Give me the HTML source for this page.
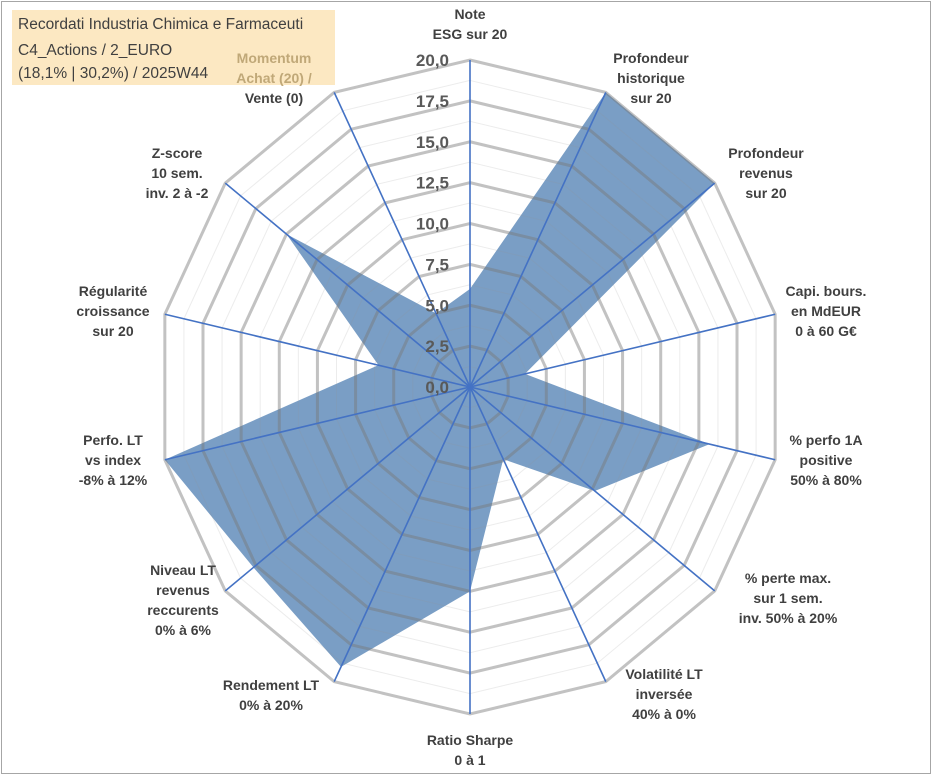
<!DOCTYPE html>
<html><head><meta charset="utf-8"><style>
body{margin:0;background:#fff;}
svg{display:block;font-family:"Liberation Sans",Arial,sans-serif;}
</style></head><body>
<svg id="chart" width="933" height="776" viewBox="0 0 933 776">
<rect x="1.5" y="1.5" width="929" height="772" fill="#fff" stroke="#a6a6a6"/>
<g id="grid"></g>
<g id="series"></g>
<g id="gridTop"></g>
<g id="spokes"></g>
<g id="ticks"></g>
<rect x="12" y="10" width="323" height="75" fill="#fce8c2"/>
<text font-family="'Liberation Sans',sans-serif" font-size="15.5" fill="#404040">
<tspan x="18" y="29">Recordati Industria Chimica e Farmaceuti</tspan>
<tspan x="18" y="55">C4_Actions / 2_EURO</tspan>
<tspan x="18" y="78">(18,1% | 30,2%) / 2025W44</tspan>
</text>
<g id="cats"></g>
</svg>
<script>
const categories=[
["Note","ESG sur 20"],
["Profondeur","historique","sur 20"],
["Profondeur","revenus","sur 20"],
["Capi. bours.","en MdEUR","0 à 60 G€"],
["% perfo 1A","positive","50% à 80%"],
["% perte max.","sur 1 sem.","inv. 50% à 20%"],
["Volatilité LT","inversée","40% à 0%"],
["Ratio Sharpe","0 à 1"],
["Rendement LT","0% à 20%"],
["Niveau LT","revenus","reccurents","0% à 6%"],
["Perfo. LT","vs index","-8% à 12%"],
["Régularité","croissance","sur 20"],
["Z-score","10 sem.","inv. 2 à -2"],
["Momentum","Achat (20) /","Vente (0)"]
];
const values=[6,20,20,3.6,15.7,10.2,4.9,12.5,19,17.7,20,6,15,5];
const tickValues=[0,2.5,5,7.5,10,12.5,15,17.5,20];
const tickLabels=["0,0","2,5","5,0","7,5","10,0","12,5","15,0","17,5","20,0"];

const NS="http://www.w3.org/2000/svg";
const cx=470,cy=387,rx=313,ry=327,vmax=20;
const N=categories.length;
function ang(i){return i*2*Math.PI/N;}
function pt(i,v){const a=ang(i);return [cx+rx*(v/vmax)*Math.sin(a),cy-ry*(v/vmax)*Math.cos(a)];}
function mk(tag,attrs,parent){const e=document.createElementNS(NS,tag);for(const k in attrs)e.setAttribute(k,attrs[k]);parent.appendChild(e);return e;}
function ring(v){let s=[];for(let i=0;i<N;i++)s.push(pt(i,v).join(","));return s.join(" ");}

const gridTop=document.getElementById("gridTop");
for(let k=0;k<tickValues.length-1;k++){
  const v=(tickValues[k]+tickValues[k+1])/2;
  const p=mk("polygon",{points:ring(v),fill:"none",stroke:"rgba(150,150,150,0.18)","stroke-width":1},gridTop);
  
  
}
const ser=document.getElementById("series");
const poly=mk("polygon",{points:values.map((v,i)=>pt(i,v).join(",")).join(" "),fill:"#6f96c0","fill-opacity":"0.92",stroke:"none"},ser);


tickValues.forEach(v=>{if(v===0)return;
  const p=mk("polygon",{points:ring(v),fill:"none",stroke:"rgba(120,120,120,0.45)","stroke-width":3},gridTop);
  
  
});
const sp=document.getElementById("spokes");
for(let i=0;i<N;i++){const [x,y]=pt(i,vmax);
  const l=mk("line",{x1:cx,y1:cy,x2:x,y2:y,stroke:"#4472c4","stroke-width":1.6},sp);
  
  
}
const tk=document.getElementById("ticks");
tickValues.forEach((v,k)=>{const y=cy-ry*v/vmax;
  const t=mk("text",{x:449,y:y+6,"text-anchor":"end","font-size":17,"font-weight":"bold",fill:"#595959"},tk);
  t.textContent=tickLabels[k];
  
  
});
const labelPos=[[470,14],[651,58],[766,153],[826,291],[826,440],[788,578],[664,674],[470,740],[271,685],[183,570],[113,440],[113,291],[177,153],[274,58]];
const cg=document.getElementById("cats");
categories.forEach((lines,i)=>{
  const t=mk("text",{"text-anchor":"middle","font-size":14,"font-weight":"bold",fill:"#404040"},cg);
  
  
  lines.forEach((s,j)=>{const ts=mk("tspan",{x:labelPos[i][0],y:labelPos[i][1]+5+j*20},t);ts.textContent=s;
    if(i===13&&j<2)ts.setAttribute("fill","#c0a878");});
});
</script>
</body></html>
